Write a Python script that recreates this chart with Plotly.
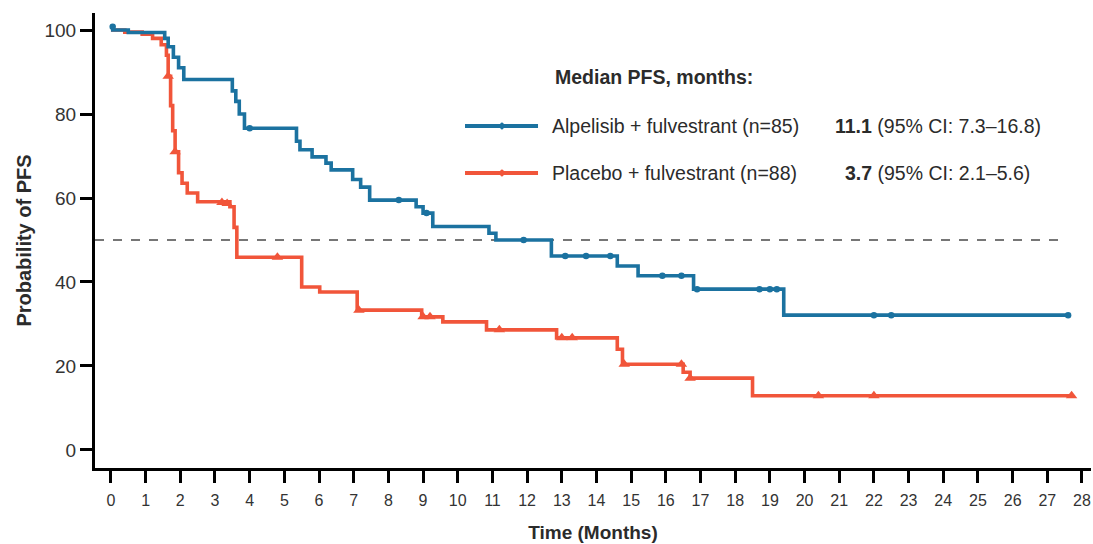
import plotly.graph_objects as go

# ---- Data ----
alp_time = [0, 0.5, 1.55, 1.65, 1.8, 1.95, 2.1, 3.5, 3.6, 3.7, 3.85, 5.35, 5.45, 5.8, 6.2, 6.35,
            6.97, 7.2, 7.46, 8.8, 9.0, 9.28, 10.9, 11.1, 12.7, 14.6, 15.2, 16.8, 19.4, 27.6]
alp_surv = [100, 99.4, 98, 96, 93.5, 91, 88.2, 85.5, 83, 80, 76.6, 73.5, 71.5, 69.8, 68.3, 66.7,
            64.4, 62.6, 59.5, 57.9, 56.4, 53.2, 51.6, 50.0, 46.2, 43.8, 41.5, 38.3, 32.1, 32.1]
alp_cens_t = [0.05, 4.0, 8.3, 9.1, 11.9, 13.1, 13.7, 14.4, 15.9, 16.45, 16.9, 18.7, 19.0, 19.2, 22.0, 22.5, 27.6]
alp_cens_s = [100.8, 76.6, 59.5, 56.4, 50.0, 46.2, 46.2, 46.2, 41.5, 41.5, 38.3, 38.3, 38.3, 38.3, 32.1, 32.1, 32.1]

pla_time = [0, 0.4, 0.9, 1.2, 1.45, 1.6, 1.65, 1.72, 1.78, 1.85, 1.95, 2.05, 2.2, 2.5, 3.43, 3.55,
            3.63, 5.5, 6.02, 7.1, 8.96, 9.57, 10.83, 12.85, 14.6, 14.75, 16.5, 16.7, 18.5, 27.7]
pla_surv = [100, 99.5, 99, 98, 96.5, 94, 89, 82, 76, 71, 66, 63.5, 61.2, 59.1, 57.9, 53,
            45.9, 38.8, 37.6, 33.3, 31.7, 30.5, 28.6, 26.7, 24, 20.4, 18.5, 17.1, 12.9, 12.9]
pla_cens_t = [1.65, 1.85, 3.2, 3.35, 4.8, 7.15, 9.0, 9.2, 11.2, 13.0, 13.3, 14.8, 16.45, 16.7, 20.4, 22.0, 27.7]
pla_cens_s = [89, 71, 58.9, 58.7, 45.9, 33.3, 31.7, 31.7, 28.6, 26.7, 26.7, 20.4, 20.4, 17.1, 12.9, 12.9, 12.9]

x_ticks = list(range(0, 29))
y_ticks = [0, 20, 40, 60, 80, 100]
median_line = 50

BLUE = "#1b72a0"
RED = "#f1553a"
FONT = "Liberation Sans, Arial, sans-serif"
TXT = "#2b2b2b"

fig = go.Figure()

fig.add_shape(type="line", xref="x", yref="y", x0=-0.46, x1=27.5, y0=median_line, y1=median_line,
              line=dict(color="#4a4a4a", width=1.5, dash="dash"), layer="below")

fig.add_trace(go.Scatter(x=pla_time, y=pla_surv, mode="lines", line=dict(color=RED, width=3.6, shape="hv"),
                         showlegend=False, hoverinfo="skip"))
fig.add_trace(go.Scatter(x=pla_cens_t, y=pla_cens_s, mode="markers",
                         marker=dict(symbol="triangle-up", size=10, color=RED), showlegend=False))
fig.add_trace(go.Scatter(x=alp_time, y=alp_surv, mode="lines", line=dict(color=BLUE, width=3.6, shape="hv"),
                         showlegend=False, hoverinfo="skip"))
fig.add_trace(go.Scatter(x=alp_cens_t, y=alp_cens_s, mode="markers",
                         marker=dict(symbol="circle", size=6.5, color=BLUE), showlegend=False))

# Legend block drawn manually
leg_shapes = [
    dict(y=0.7516, color=BLUE),
    dict(y=0.6484, color=RED),
]
for s in leg_shapes:
    fig.add_shape(type="line", xref="paper", yref="paper", x0=0.3715, x1=0.4448, y0=s["y"], y1=s["y"],
                  line=dict(color=s["color"], width=4))
    fig.add_shape(type="circle", xref="paper", yref="paper", x0=0.4066, x1=0.4106,
                  y0=s["y"] - 0.0075, y1=s["y"] + 0.0075, fillcolor=s["color"], line=dict(width=0))

LSIZE = 19.5
annots = [
    dict(x=0.4598, y=0.859, text="<b>Median PFS, months:</b>"),
    dict(x=0.4568, y=0.7516, text="Alpelisib + fulvestrant (n=85)"),
    dict(x=0.4568, y=0.6484, text="Placebo + fulvestrant (n=88)"),
    dict(x=0.741, y=0.7516, text="<b>11.1</b> (95% CI: 7.3–16.8)"),
    dict(x=0.751, y=0.6484, text="<b>3.7</b> (95% CI: 2.1–5.6)"),
]
for a in annots:
    fig.add_annotation(x=a["x"], y=a["y"], xref="paper", yref="paper", text=a["text"], showarrow=False,
                       xanchor="left", yanchor="middle", font=dict(family=FONT, size=LSIZE, color=TXT))

fig.update_layout(
    width=1093, height=544,
    margin=dict(l=95, r=2, t=13, b=76),
    plot_bgcolor="white", paper_bgcolor="white",
    font=dict(family=FONT, color=TXT),
    xaxis=dict(range=[-0.46, 28.26], tickmode="array", tickvals=x_ticks, ticktext=[str(v) for v in x_ticks],
               showgrid=False, zeroline=False, showline=True, linecolor="black", linewidth=3,
               ticks="outside", ticklen=12, tickwidth=3, tickcolor="black", ticklabelstandoff=4,
               tickfont=dict(size=16, color="#333333"),
               title=dict(text="<b>Time (Months)</b>", font=dict(size=19, color=TXT), standoff=18)),
    yaxis=dict(range=[-4.29, 104.05], tickmode="array", tickvals=y_ticks, ticktext=[str(v) for v in y_ticks],
               showgrid=False, zeroline=False, showline=True, linecolor="black", linewidth=3,
               ticks="outside", ticklen=12, tickwidth=3, tickcolor="black",
               tickfont=dict(size=19, color="#333333"),
               title=dict(text="<b>Probability of PFS</b>", font=dict(size=20, color=TXT), standoff=8)),
)

fig.write_html("out.html", config={"displayModeBar": False},
               post_script="document.body.style.margin='0';document.body.style.overflow='hidden';")
